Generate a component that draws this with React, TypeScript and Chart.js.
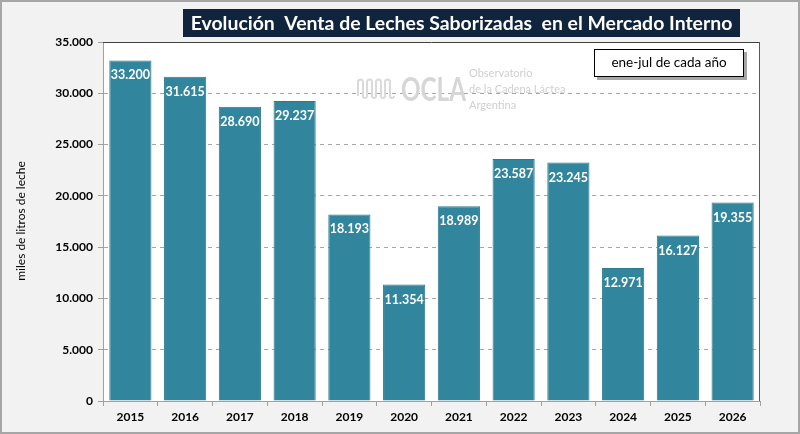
import React, { useEffect, useRef } from "react";
import { Chart, registerables } from "chart.js";

Chart.register(...registerables);

const categories = ["2015", "2016", "2017", "2018", "2019", "2020", "2021", "2022", "2023", "2024", "2025", "2026"];
const ventas = [33200, 31615, 28690, 29237, 18193, 11354, 18989, 23587, 23245, 12971, 16127, 19355];
const titleText = "Evolución  Venta de Leches Saborizadas  en el Mercado Interno";
const noteText = "ene-jul de cada año";
const yTitle = "miles de litros de leche";

const FONT = "Lato, 'Open Sans', sans-serif";

const fmt = (v: number) => Math.round(v).toString().replace(/\B(?=(\d{3})+(?!\d))/g, ".");

const decorPlugin = {
  id: "decor",
  beforeDraw(chart: any) {
    const { ctx, width, height } = chart;
    ctx.save();
    ctx.fillStyle = "#f2f2f2";
    ctx.fillRect(0, 0, width, height);
    ctx.strokeStyle = "#a6a6a6";
    ctx.lineWidth = 2;
    ctx.strokeRect(1, 1, width - 2, height - 2);
    const ca = chart.chartArea;
    ctx.fillStyle = "#ffffff";
    ctx.fillRect(ca.left, ca.top, ca.right - ca.left, ca.bottom - ca.top);
    ctx.restore();
  },
  beforeDatasetsDraw(chart: any) {
    const { ctx } = chart;
    ctx.save();
    // watermark
    ctx.strokeStyle = "#dadada";
    ctx.lineWidth = 2;
    ctx.beginPath();
    const bx = 358, by = 78;
    for (let i = 0; i < 4; i++) {
      const x = bx + i * 9;
      ctx.moveTo(x, by + 18);
      ctx.lineTo(x, by + 4);
      ctx.arc(x + 2.5, by + 4, 2.5, Math.PI, 0);
      ctx.lineTo(x + 5, by + 18);
      ctx.arc(x + 7, by + 18, 2, Math.PI, 0, true);
    }
    ctx.stroke();
    ctx.fillStyle = "#d6d6d6";
    ctx.font = `bold 32px ${FONT}`;
    const ow = ctx.measureText("OCLA").width;
    ctx.save();
    ctx.translate(401, 101);
    ctx.scale(65 / ow, 1);
    ctx.textBaseline = "alphabetic";
    ctx.textAlign = "left";
    ctx.fillText("OCLA", 0, 0);
    ctx.restore();
    ctx.font = `11px ${FONT}`;
    ctx.fillStyle = "#cfcfcf";
    ctx.textAlign = "left";
    ctx.textBaseline = "middle";
    ctx.fillText("Observatorio", 469, 73);
    ctx.fillText("de la Cadena Láctea", 469, 89);
    ctx.fillText("Argentina", 469, 105);
    ctx.restore();
  },
  afterDraw(chart: any) {
    const { ctx } = chart;
    const ca = chart.chartArea;
    ctx.save();
    // plot frame
    ctx.lineWidth = 1;
    ctx.strokeStyle = "#404040";
    ctx.beginPath();
    ctx.moveTo(ca.left, ca.top + 0.5);
    ctx.lineTo(ca.right, ca.top + 0.5);
    ctx.stroke();
    ctx.strokeStyle = "#595959";
    ctx.beginPath();
    ctx.moveTo(ca.right - 0.5, ca.top);
    ctx.lineTo(ca.right - 0.5, ca.bottom);
    ctx.stroke();

    // data labels
    const meta = chart.getDatasetMeta(0);
    ctx.fillStyle = "#ffffff";
    ctx.font = `bold 12.5px ${FONT}`;
    ctx.textAlign = "center";
    ctx.textBaseline = "middle";
    meta.data.forEach((bar: any, i: number) => {
      ctx.fillText(fmt(ventas[i]), bar.x, bar.y + 15);
    });

    // y title
    ctx.save();
    ctx.translate(21, 221);
    ctx.rotate(-Math.PI / 2);
    ctx.fillStyle = "#000000";
    ctx.font = `12px ${FONT}`;
    ctx.fillText(yTitle, 0, 0);
    ctx.restore();

    // title box
    ctx.fillStyle = "#10243e";
    ctx.fillRect(183, 9, 557, 28);
    let size = 18;
    ctx.font = `bold ${size}px ${FONT}`;
    const w = ctx.measureText(titleText).width;
    size = (size * 542) / w;
    ctx.font = `bold ${size}px ${FONT}`;
    ctx.fillStyle = "#ffffff";
    ctx.fillText(titleText, 461.5, 23.5);

    // note box
    ctx.fillStyle = "rgba(0,0,0,0.35)";
    ctx.fillRect(597, 52, 150, 28);
    ctx.fillStyle = "#ffffff";
    ctx.fillRect(594, 49, 150, 28);
    ctx.strokeStyle = "#000000";
    ctx.strokeRect(594.5, 49.5, 149, 27);
    ctx.fillStyle = "#000000";
    ctx.font = `13.5px ${FONT}`;
    ctx.fillText(noteText, 669, 63);
    ctx.restore();
  },
};

export default function App() {
  const ref = useRef<HTMLCanvasElement>(null);
  useEffect(() => {
    document.body.style.margin = "0";
    const chart = new Chart(ref.current!, {
      type: "bar",
      data: {
        labels: categories,
        datasets: [
          {
            data: ventas,
            backgroundColor: "#31859c",
            borderColor: "#2b7a8f",
            borderWidth: 1,
            barPercentage: 0.77,
            categoryPercentage: 1,
          },
        ],
      },
      options: {
        animation: false,
        responsive: false,
        maintainAspectRatio: false,
        layout: { padding: { left: 0, right: 40, top: 42, bottom: 0 } },
        plugins: { legend: { display: false }, tooltip: { enabled: false }, title: { display: false } },
        scales: {
          x: {
            afterFit: (s: any) => { s.height = 33; },
            grid: { display: true, drawOnChartArea: false, drawTicks: true, tickLength: 5, color: "#a0a0a0", offset: true },
            border: { display: true, color: "#a0a0a0", width: 1 },
            ticks: { color: "#000000", font: { family: FONT, size: 12, weight: "bold" }, padding: 4 },
          },
          y: {
            min: 0,
            max: 35000,
            afterFit: (s: any) => { s.width = 103; },
            ticks: {
              stepSize: 5000,
              color: "#000000",
              font: { family: FONT, size: 12, weight: "bold" },
              padding: 5,
              callback: (v: any) => fmt(Number(v)),
            },
            grid: {
              color: (c: any) => (c.tick && (c.tick.value === 0 || c.tick.value === 35000) ? "rgba(0,0,0,0)" : "#a6a6a6"),
              tickColor: "#a0a0a0",
              tickLength: 5,
              tickBorderDash: [],
              drawTicks: true,
            },
            border: { display: true, color: "#a0a0a0", width: 1, dash: [4, 4] },
          },
        },
      },
      plugins: [decorPlugin],
    } as any);
    return () => chart.destroy();
  }, []);
  return (
    <div style={{ width: 800, height: 434 }}>
      <canvas ref={ref} width={800} height={434} style={{ display: "block", width: 800, height: 434 }} />
    </div>
  );
}
